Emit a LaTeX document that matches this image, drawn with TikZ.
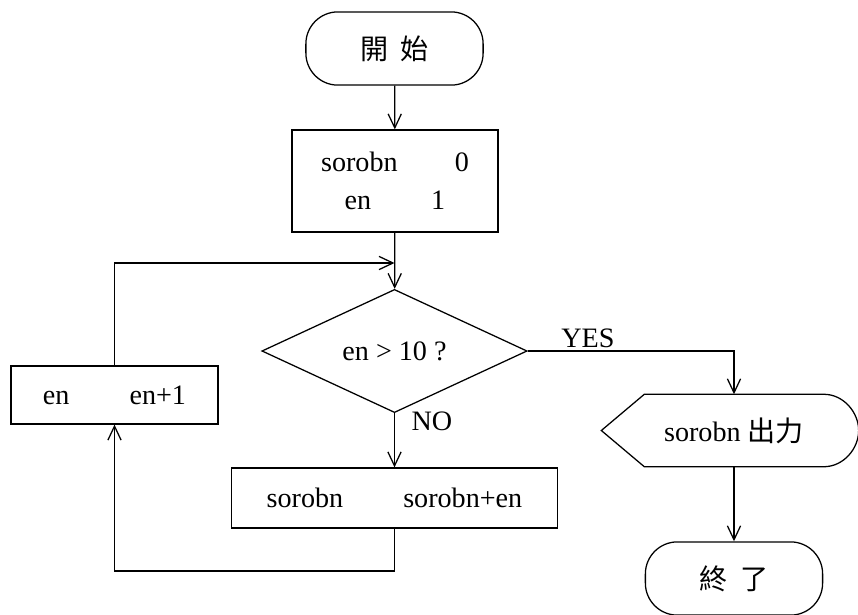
\documentclass[tikz,border=0pt]{standalone}
\usepackage{fontspec}
\setmainfont{Liberation Serif}
\newfontfamily\cjk{Noto Sans CJK TC}
\usetikzlibrary{shapes.geometric,arrows.meta}

\begin{document}
\begin{tikzpicture}[x=0.025cm, y=-0.025cm, line width=0.9pt,
    every node/.style={font=\fontsize{20}{27}\selectfont, inner sep=0pt},
    >={Straight Barb[length=3.5mm,width=3.3mm]},
    term/.style={draw, rounded corners=0.8cm, minimum width=4.43cm, minimum height=1.83cm},
    proc/.style={draw, align=center},
    cond/.style={draw, diamond, minimum width=6.63cm, minimum height=2.9cm}]
  \useasboundingbox (0,0) rectangle (858,614);
  \node [term] (start) at (394.5,48.5) {\cjk 開\hspace{0.45em}始};
  \node [proc, minimum width=5.15cm, minimum height=2.55cm] (init) at (395,181)
    {sorobn\hspace{1.43cm}0\\en\hspace{1.5cm}1};
  \node [cond] (test) at (394.5,351) {en > 10 ?};
  \node [proc, minimum width=5.18cm, minimum height=1.45cm] (inc) at (114.5,395)
    {en\hspace{1.5cm}en+1};
  \node [proc, minimum width=8.13cm, minimum height=1.5cm] (add) at (394.5,498)
    {sorobn\hspace{1.5cm}sorobn+en};
  \node [minimum width=4.45cm, minimum height=1.78cm] (out) at (734,430.5)
    {sorobn {\cjk 出力}};
  \node [term] (stop) at (734,578.5) {\cjk 終\hspace{0.45em}了};
  \node (yes) at (588,338) {YES};
  \node [anchor=west] (no) at (411,421) {NO};
  \coordinate (merge) at (394.5,263);
  \coordinate (lowturn) at (394.5,571);

  % output shape
  \draw ([xshift=-1.075cm]out.west) -- (out.north west) -- (out.north east)
    .. controls ([xshift=0.5cm]out.north east) and ([xshift=0.875cm,yshift=0.45cm]out.east)
    .. ([xshift=0.875cm]out.east)
    .. controls ([xshift=0.875cm,yshift=-0.45cm]out.east) and ([xshift=0.5cm]out.south east)
    .. (out.south east) -- (out.south west) -- cycle;

  \draw [->] (start) -- (init);
  \draw [->] (init) -- (test);
  \draw [->] (inc) |- (merge);
  \draw [->] (test) -- (add);
  \draw [->] (add) -- (lowturn) -| (inc);
  \draw [->] (test) -| (out);
  \draw [->] (out) -- (stop);
\end{tikzpicture}
\end{document}
